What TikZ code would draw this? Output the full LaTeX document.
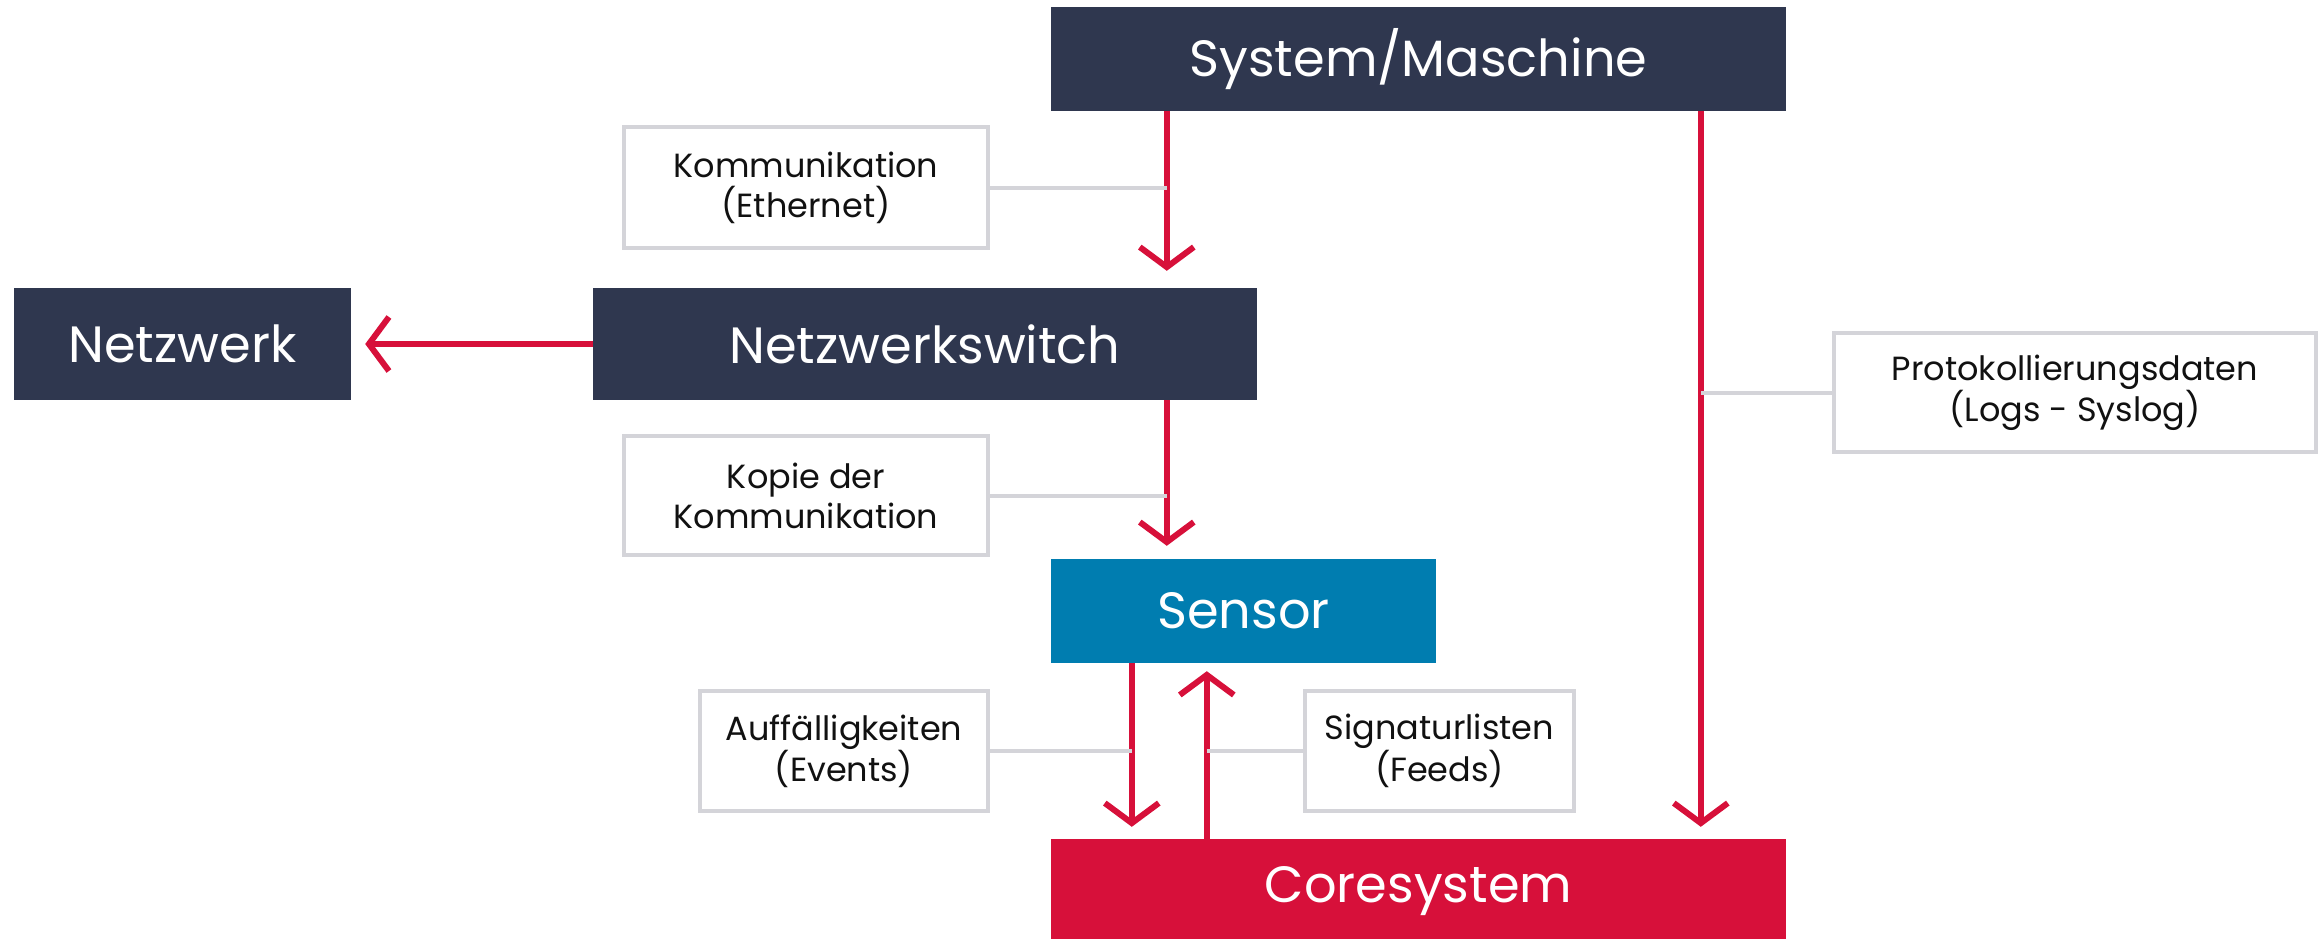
\documentclass[tikz,border=0pt]{standalone}
\usepackage{fontspec}
\setmainfont{Poppins}
\usetikzlibrary{arrows.meta,calc}
\definecolor{navy}{HTML}{2F374F}
\definecolor{sblue}{HTML}{007DB0}
\definecolor{cred}{HTML}{D7103A}
\definecolor{lgrey}{HTML}{D4D4D9}
\definecolor{txt}{HTML}{111111}
\begin{document}
\begin{tikzpicture}[x=1pt,y=-1pt,
  bigbox/.style={fill=navy, text=white, inner sep=0pt, anchor=center,
    font=\fontsize{51}{60}\selectfont},
  lblbox/.style={draw=lgrey, line width=4pt, fill=white, text=txt, inner sep=0pt,
    anchor=center, align=center, font=\fontsize{33.5}{40}\selectfont},
  redarrow/.style={draw=cred, line width=6pt, line join=miter,
    -{Straight Barb[length=20pt,width=54pt,line join=miter]}},
  lblline/.style={draw=lgrey, line width=4pt}]
\useasboundingbox (0,0) rectangle (2323,938);

% main boxes
\node[bigbox, minimum width=735pt, minimum height=104pt] (sys) at (1418.5,59) {System/Maschine};
\node[bigbox, minimum width=664pt, minimum height=112pt] (switch) at (925,344) {Netzwerkswitch};
\node[bigbox, minimum width=337pt, minimum height=112pt] (netz) at (182.5,344) {Netzwerk};
\node[bigbox, fill=sblue, minimum width=385pt, minimum height=104pt] (sensor) at (1243.5,611) {Sensor};
\node[bigbox, fill=cred, minimum width=735pt, minimum height=104pt] (core) at (1418.5,891) {Coresystem};

% label boxes
\node[lblbox, minimum width=364pt, minimum height=121pt] (komm) at (806,187.5) {Kommunikation\\(Ethernet)};
\node[lblbox, minimum width=364pt, minimum height=119pt] (kopie) at (806,495.5) {Kopie der\\Kommunikation};
\node[lblbox, minimum width=288pt, minimum height=120pt] (auff) at (844,751) {Auffälligkeiten\\(Events)};
\node[lblbox, minimum width=269pt, minimum height=120pt] (sig) at (1439.5,751) {Signaturlisten\\(Feeds)};
\node[lblbox, minimum width=482pt, minimum height=119pt] (prot) at (2075,392.5) {Protokollierungsdaten\\(Logs - Syslog)};

% anchor coordinates on the box edges
\coordinate (sysA) at ($(sys.south west)+(116,0)$);
\coordinate (sysB) at ($(sys.south west)+(650,0)$);
\coordinate (swB) at ($(switch.south west)+(574,0)$);
\coordinate (senA) at ($(sensor.south west)+(81,0)$);
\coordinate (coreB) at ($(core.north west)+(156,0)$);

% arrows
\draw[redarrow, shorten >=17pt] (sysA) -- (sysA |- switch.north);
\draw[redarrow, shorten >=13pt] (swB) -- (swB |- sensor.north);
\draw[redarrow, shorten >=14pt] (switch.west) -- (netz.east);
\draw[redarrow, shorten >=12pt] (senA) -- (senA |- core.north);
\draw[redarrow, shorten >=8pt] (coreB) -- (coreB |- sensor.south);
\draw[redarrow, shorten >=12pt] (sysB) -- (sysB |- core.north);

% label leader lines
\draw[lblline] (komm.east) -- (komm.east -| sysA);
\draw[lblline] (kopie.east) -- (kopie.east -| swB);
\draw[lblline] (auff.east) -- (auff.east -| senA);
\draw[lblline] (sig.west) -- (sig.west -| coreB);
\draw[lblline] (prot.west) -- (prot.west -| sysB);
\end{tikzpicture}
\end{document}
